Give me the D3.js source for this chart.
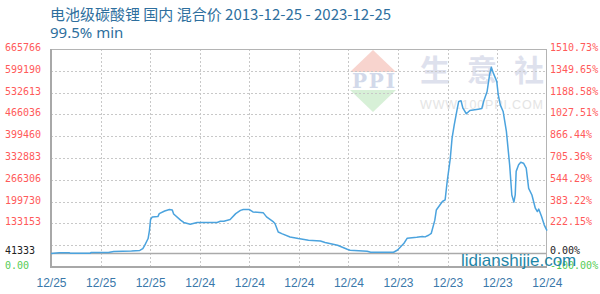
<!DOCTYPE html>
<html>
<head>
<meta charset="utf-8">
<script src="https://cdn.jsdelivr.net/npm/d3@7"></script>
<style>
  body { margin: 0; background: #fff; }
  svg { display: block; }
</style>
</head>
<body>
<div id="chart"></div>
<script>
// series: date, price (yuan/t)
const dates = [
  "2013-12-25","2014-02-25","2014-05-10","2014-05-15","2014-10-10","2014-10-15","2015-02-20","2015-04-01",
  "2015-08-10","2015-10-10","2015-11-01","2015-11-15","2015-12-10","2015-12-20","2015-12-28","2016-01-10",
  "2016-02-20","2016-03-01","2016-04-10","2016-05-15","2016-06-05","2016-06-15","2016-08-05","2016-08-28",
  "2016-10-15","2016-12-05","2017-05-01","2017-05-25","2017-06-20","2017-08-05","2017-09-15","2017-10-20",
  "2017-11-10","2017-12-25","2018-01-20","2018-04-05","2018-04-30","2018-06-20","2018-07-01","2018-07-25",
  "2018-08-20","2018-10-20","2018-12-20","2019-03-05","2019-06-01","2019-07-05","2019-10-05","2019-12-15",
  "2020-01-05","2020-05-10","2020-06-05","2020-11-20","2020-12-20","2021-02-05","2021-03-01","2021-05-10",
  "2021-06-20","2021-07-10","2021-08-05","2021-08-25","2021-09-20","2021-10-01","2021-11-15","2021-12-05",
  "2021-12-20","2022-01-12","2022-01-25","2022-02-10","2022-03-05","2022-03-15","2022-04-01","2022-04-15",
  "2022-05-10","2022-06-05","2022-08-05","2022-09-01","2022-09-15","2022-10-10","2022-10-28","2022-11-10",
  "2022-11-25","2022-12-20","2022-12-31","2023-01-15","2023-02-05","2023-03-01","2023-03-25","2023-04-10",
  "2023-04-25","2023-05-05","2023-05-12","2023-05-30","2023-06-15","2023-07-05","2023-07-25","2023-08-12",
  "2023-09-05","2023-09-30","2023-10-15","2023-10-25","2023-11-15","2023-12-05","2023-12-25"
];
const prices = [
  41333, 43500, 43500, 42000, 42000, 44500, 44500, 47000,
  48500, 50500, 56000, 66000, 87000, 112000, 145000, 153000,
  154000, 163000, 171000, 175500, 174000, 162000, 143000, 136000,
  130500, 136000, 136000, 139500, 140000, 145000, 163000, 173000,
  175500, 175500, 168000, 166000, 153000, 137600, 132700, 107000,
  102000, 91700, 86800, 81600, 79500, 74600, 66400, 54100,
  51000, 48000, 45000, 45000, 52000, 72500, 88000, 90800,
  93000, 92000, 97000, 103000, 143000, 174000, 200000, 205000,
  261000, 332000, 393500, 434000, 485000, 505700, 507700, 485000,
  468000, 478000, 482000, 484000, 506000, 536000, 587000, 610000,
  592000, 567000, 526000, 495000, 475000, 414000, 312000, 220000,
  198000, 220000, 292000, 312000, 320000, 317000, 302000, 240000,
  220000, 179500, 169400, 177000, 154000, 128000, 111000
];

const basePrice = 41333;
const gridValues = [66577, 133153, 199730, 266306, 332883, 399460, 466036, 532613, 599190, 665766];
const leftLabels = ["", "133153", "199730", "266306", "332883", "399460", "466036", "532613", "599190", "665766"];
const rightLabels = ["", "222.15%", "383.22%", "544.29%", "705.36%", "866.44%", "1027.51%", "1188.58%", "1349.65%", "1510.73%"];
const xTickDates = ["2013-12-25","2014-12-25","2015-12-25","2016-12-24","2017-12-24","2018-12-24",
                    "2019-12-24","2020-12-23","2021-12-23","2022-12-23","2023-12-24"];
const xTickLabels = ["12/25","12/25","12/25","12/24","12/24","12/24","12/24","12/23","12/23","12/23","12/24"];

const W = 600, H = 294;
const pLeft = 51, pRight = 547, pTop = 49, pBottom = 267;
const parse = d3.timeParse("%Y-%m-%d");
const data = dates.map((d, i) => ({date: parse(d), value: prices[i]}));

const svg = d3.select("#chart").append("svg")
    .attr("width", W)
    .attr("height", H);

const x = d3.scaleTime()
    .domain([parse("2013-12-25"), parse("2023-12-25")])
    .range([pLeft, pRight]);
const y = d3.scaleLinear()
    .domain([0, 665766])
    .range([pBottom, pTop]);

// title
svg.append("text")
    .attr("x", 50).attr("y", 20)
    .attr("fill", "#2e6f9e")
    .style("font", "15px 'Noto Sans CJK SC', 'Noto Sans', sans-serif")
    .text("电池级碳酸锂 国内 混合价 2013-12-25 - 2023-12-25");
svg.append("text")
    .attr("x", 50).attr("y", 38)
    .attr("fill", "#2e6f9e")
    .style("font", "15px 'Noto Sans', sans-serif")
    .text("99.5% min");

// watermark logo
const logo = svg.append("g");
logo.append("path")
    .attr("d", "M373,50 L396,72 L350,72 Z")
    .attr("fill", "#f8d4ce");
logo.append("path")
    .attr("d", "M350,90 L396,90 L373,112 Z")
    .attr("fill", "#d7f0d7");
logo.append("text")
    .attr("x", 352).attr("y", 88)
    .attr("fill", "#d2d9ea")
    .attr("textLength", 43)
    .style("font", "bold 20px 'DejaVu Serif', serif")
    .text("PPI");
logo.append("text")
    .attr("x", 420).attr("y", 81)
    .attr("fill", "#dee1ed")
    .attr("textLength", 124)
    .style("font", "bold 30px 'Noto Sans CJK SC', sans-serif")
    .text("生 意 社");
logo.append("text")
    .attr("x", 420).attr("y", 108.5)
    .attr("fill", "#e4e4e4")
    .attr("textLength", 123)
    .style("font", "12.5px 'Liberation Sans', sans-serif")
    .text("WWW.100PPI.COM");

// grid
const grid = svg.append("g");
grid.selectAll("line.h")
    .data(gridValues.slice(0, -1))
    .join("line")
    .attr("x1", pLeft).attr("x2", pRight)
    .attr("y1", d => Math.round(y(d)) + 0.5)
    .attr("y2", d => Math.round(y(d)) + 0.5)
    .attr("stroke", "#c8c8c8")
    .attr("stroke-dasharray", "2,2");
grid.selectAll("line.v")
    .data(xTickDates.slice(1, -1))
    .join("line")
    .attr("x1", d => Math.round(x(parse(d))) + 0.5)
    .attr("x2", d => Math.round(x(parse(d))) + 0.5)
    .attr("y1", pTop).attr("y2", pBottom)
    .attr("stroke", "#c8c8c8")
    .attr("stroke-dasharray", "2,2");

// base line at start price
svg.append("line")
    .attr("x1", pLeft).attr("x2", pRight)
    .attr("y1", y(basePrice)).attr("y2", y(basePrice))
    .attr("stroke", "#aaaaaa")
    .attr("stroke-width", 1.5);

// frame
svg.append("rect")
    .attr("x", pLeft + 0.5).attr("y", pTop + 0.5)
    .attr("width", pRight - pLeft - 1).attr("height", pBottom - pTop - 1)
    .attr("fill", "none")
    .attr("stroke", "#b4b4b4");
svg.append("path")
    .attr("d", `M${pLeft},${pTop} V${pBottom} H${pRight}`)
    .attr("fill", "none")
    .attr("stroke", "#a8a8a8")
    .attr("stroke-width", 2);

// price line
svg.append("path")
    .datum(data)
    .attr("fill", "none")
    .attr("stroke", "#4ba3de")
    .attr("stroke-width", 1.5)
    .attr("stroke-linejoin", "round")
    .attr("d", d3.line().x(d => x(d.date)).y(d => y(d.value)));

// left axis labels
const monoFont = "10px 'DejaVu Sans Mono', monospace";
svg.append("g").selectAll("text")
    .data(gridValues)
    .join("text")
    .attr("x", 5)
    .attr("y", d => y(d) + 2)
    .attr("fill", "#ff5a5a")
    .style("font", monoFont)
    .text((d, i) => leftLabels[i]);
svg.append("text")
    .attr("x", 5).attr("y", y(basePrice) + 1)
    .attr("fill", "#222")
    .style("font", monoFont)
    .text(basePrice);
svg.append("text")
    .attr("x", 5).attr("y", y(0) + 2)
    .attr("fill", "#55cc55")
    .style("font", monoFont)
    .text("0.00");

// right axis labels
svg.append("g").selectAll("text")
    .data(gridValues)
    .join("text")
    .attr("x", 550)
    .attr("y", d => y(d) + 2)
    .attr("fill", "#ff5a5a")
    .style("font", monoFont)
    .text((d, i) => rightLabels[i]);
svg.append("text")
    .attr("x", 550).attr("y", y(basePrice) + 1)
    .attr("fill", "#222")
    .style("font", monoFont)
    .text("0.00%");
svg.append("text")
    .attr("x", 550).attr("y", y(0) + 2)
    .attr("fill", "#55cc55")
    .style("font", monoFont)
    .text("-100.00%");

// x axis
const xAxis = d3.axisBottom(x)
    .tickValues(xTickDates.map(parse))
    .tickFormat((d, i) => xTickLabels[i])
    .tickSize(0)
    .tickPadding(0);
const gx = svg.append("g")
    .attr("transform", `translate(0,${pBottom + 11})`)
    .call(xAxis);
gx.select(".domain").remove();
gx.selectAll("text")
    .attr("fill", "#3a78aa")
    .style("font", "12px 'Liberation Sans', sans-serif");

// site watermark
svg.append("text")
    .attr("x", 461).attr("y", 266)
    .attr("fill", "#1f86a8")
    .style("font", "17px 'Liberation Sans', sans-serif")
    .text("lidianshijie.com");
</script>
</body>
</html>
